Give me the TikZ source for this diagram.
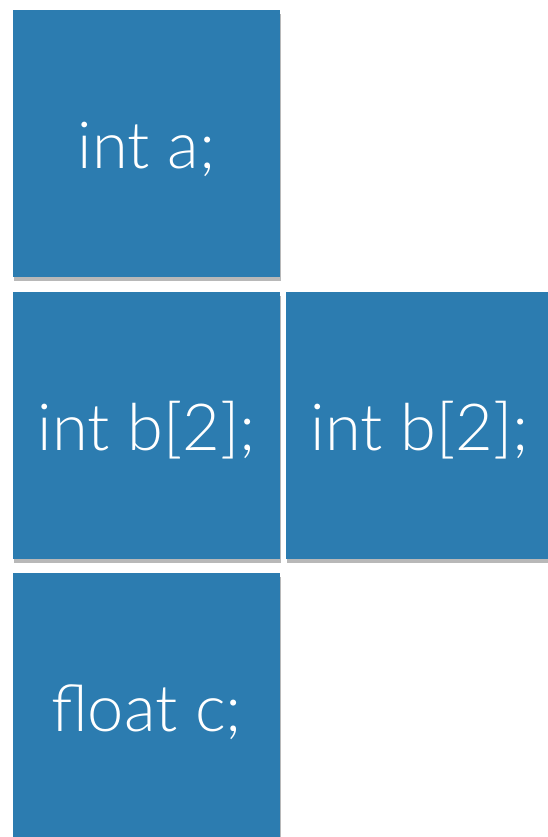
\documentclass[tikz,border=0pt]{standalone}
\usepackage{fontspec}
\setmainfont{Lato}[UprightFont=* Light]
\usetikzlibrary{positioning,shadows}

\definecolor{cellblue}{HTML}{2C7CB0}

\tikzset{
    memcell/.style={fill=cellblue, text=white, inner sep=0pt,
        minimum width=267pt, minimum height=267pt,
        text height=50pt, text depth=0pt,
        font=\fontsize{65}{65}\selectfont,
        drop shadow={shadow xshift=1pt, shadow yshift=-4pt, opacity=0.28, fill=black}}
}

\begin{document}
\begin{tikzpicture}[x=1pt, y=1pt]

% page frame, cells run off the right and bottom edge
\useasboundingbox (0,0) rectangle (548,-837);
\clip (0,0) rectangle (548,-837);

% variable a
\node[memcell, anchor=north west] (a) at (13,-10) {int a;};

% array b, two cells side by side
\node[memcell, below=14pt of a] (b0) {int b[2];};
\node[memcell, right=5.5pt of b0] (b1) {int b[2];};

% variable c
\node[memcell, below=14pt of b0] (c) {float c;};

\end{tikzpicture}
\end{document}
